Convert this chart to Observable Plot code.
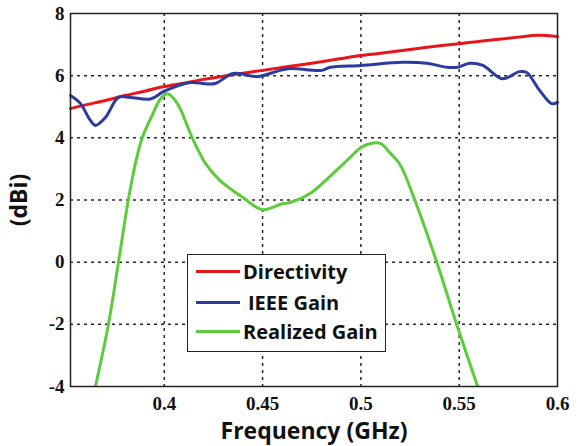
<!DOCTYPE html>
<html>
<head>
<meta charset="utf-8">
<script src="https://cdn.jsdelivr.net/npm/d3@7"></script>
<script src="https://cdn.jsdelivr.net/npm/@observablehq/plot@0.6"></script>
<style>
  body { margin: 0; background: #fff; }
  #wrap { position: relative; width: 579px; height: 446px; }
  #legend { position: absolute; left: 187px; top: 254px; width: 197px; height: 96px;
    border: 1.5px solid #222; background: #fff; font-family: "Open Sans", sans-serif;
    font-weight: bold; font-size: 20px; color: #111; box-sizing: content-box; }
  .row { position: absolute; left: 0; height: 26px; display: flex; align-items: center; }
  .sw { width: 44px; height: 3px; margin-left: 8px; margin-right: 3px; }
</style>
</head>
<body>
<div id="wrap"></div>
<script>
const xTicks = [0.4, 0.45, 0.5, 0.55, 0.6];
const yTicks = [-4, -2, 0, 2, 4, 6, 8];

const dirFreq = [0.3523, 0.36, 0.37, 0.38, 0.39, 0.4, 0.41, 0.42, 0.43, 0.44, 0.45, 0.464, 0.48, 0.49, 0.5, 0.51, 0.52, 0.53, 0.54, 0.55, 0.56, 0.57, 0.58, 0.59, 0.6];
const dirVals = [4.94, 5.06, 5.2, 5.36, 5.5, 5.65, 5.76, 5.88, 5.98, 6.08, 6.17, 6.3, 6.45, 6.55, 6.65, 6.72, 6.8, 6.88, 6.96, 7.03, 7.1, 7.17, 7.24, 7.3, 7.26];

const gainFreq = [0.3523, 0.3574, 0.362, 0.365, 0.370, 0.3767, 0.3827, 0.393, 0.4, 0.4132, 0.4208, 0.426, 0.435, 0.4437, 0.4477, 0.4589, 0.464, 0.48, 0.4843, 0.5, 0.5213, 0.5335, 0.5437, 0.5492, 0.5553, 0.562, 0.572, 0.5807, 0.5843, 0.591, 0.597, 0.6];
const gainVals = [5.36, 5.1, 4.6, 4.4, 4.65, 5.3, 5.3, 5.25, 5.5, 5.78, 5.74, 5.75, 6.07, 6.0, 5.97, 6.17, 6.23, 6.17, 6.27, 6.33, 6.43, 6.4, 6.27, 6.27, 6.4, 6.33, 5.9, 6.13, 6.1, 5.52, 5.1, 5.14];

const realFreq = [0.365, 0.3716, 0.3767, 0.3817, 0.3853, 0.3888, 0.3944, 0.398, 0.4015, 0.405, 0.408, 0.411, 0.4142, 0.421, 0.428, 0.435, 0.44, 0.45, 0.46, 0.464, 0.474, 0.485, 0.495, 0.5, 0.505, 0.51, 0.515, 0.5198, 0.5274, 0.5386, 0.5487, 0.5594];
const realVals = [-4, -2, 0, 2, 3.17, 4.0, 4.8, 5.25, 5.42, 5.25, 4.95, 4.5, 4.0, 3.17, 2.65, 2.3, 2.08, 1.69, 1.88, 1.92, 2.2, 2.8, 3.4, 3.69, 3.82, 3.82, 3.5, 3.15, 2.0, 0, -2, -4];

const seriesNames = ["Directivity", "IEEE Gain", "Realized Gain"];
const seriesColors = ["#e8161b", "#2b3ba0", "#5ccb3c"];

const dir = dirFreq.map((f, i) => ({f, v: dirVals[i]}));
const gain = gainFreq.map((f, i) => ({f, v: gainVals[i]}));
const real = realFreq.map((f, i) => ({f, v: realVals[i]}));

const gridStyle = {stroke: "#111", strokeOpacity: 0.9, strokeWidth: 1.5, strokeDasharray: "3,4"};
const fmt = d => String(d);

const chart = Plot.plot({
  width: 579,
  height: 446,
  marginLeft: 70,
  marginRight: 22,
  marginTop: 13,
  marginBottom: 60,
  style: {background: "#fff"},
  x: {domain: [0.3523, 0.6], label: null},
  y: {domain: [-4, 8], label: null},
  marks: [
    Plot.gridX(xTicks.slice(0, -1), {...gridStyle}),
    Plot.gridY(yTicks.slice(1, -1), {...gridStyle}),
    Plot.line(real, {x: "f", y: "v", stroke: seriesColors[2], strokeWidth: 3, curve: "catmull-rom", clip: true}),
    Plot.line(dir, {x: "f", y: "v", stroke: seriesColors[0], strokeWidth: 3, curve: "catmull-rom"}),
    Plot.line(gain, {x: "f", y: "v", stroke: seriesColors[1], strokeWidth: 3, curve: "catmull-rom"}),
    Plot.frame({stroke: "#222", strokeWidth: 1.5}),
    Plot.axisX(xTicks, {tickFormat: fmt, tickSize: 0, tickPadding: 10, fontSize: 19, fontWeight: "bold", fontFamily: "Liberation Serif", fill: "#111", label: null}),
    Plot.axisY(yTicks, {tickFormat: fmt, tickSize: 0, tickPadding: 6, fontSize: 19, fontWeight: "bold", fontFamily: "Liberation Serif", fill: "#111", label: null}),
    Plot.axisX([], {label: "Frequency (GHz)", labelAnchor: "center", labelArrow: "none", labelOffset: 52, fontSize: 23, fontWeight: "bold", fontFamily: "Open Sans", fill: "#111"}),
    Plot.axisY([], {label: "(dBi)", labelAnchor: "center", labelArrow: "none", labelOffset: 60, fontSize: 23, fontWeight: "bold", fontFamily: "Open Sans", fill: "#111"})
  ]
});

const wrap = document.getElementById("wrap");
wrap.appendChild(chart);

const legend = document.createElement("div");
legend.id = "legend";
const rowTops = [3, 34, 63];
seriesNames.forEach((name, i) => {
  const row = document.createElement("div");
  row.className = "row";
  row.style.top = rowTops[i] + "px";
  const sw = document.createElement("div");
  sw.className = "sw";
  sw.style.background = seriesColors[i];
  const t = document.createElement("span");
  t.textContent = name;
  if (i === 1) t.style.marginLeft = "5px";
  row.appendChild(sw);
  row.appendChild(t);
  legend.appendChild(row);
});
wrap.appendChild(legend);
</script>
</body>
</html>
